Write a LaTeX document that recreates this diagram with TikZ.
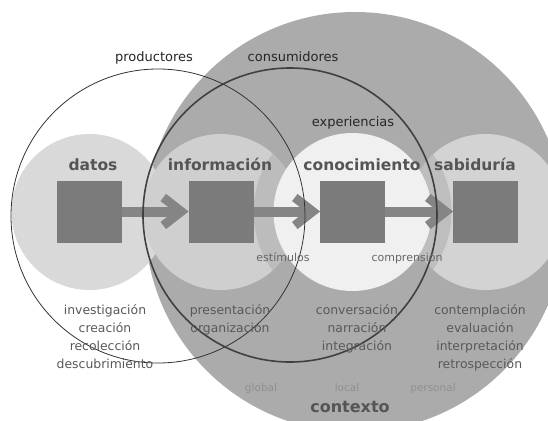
\documentclass[tikz,border=0pt]{standalone}
\usepackage{fontspec}
\setmainfont{DejaVu Sans}
\usetikzlibrary{calc}
\definecolor{ctxgray}{HTML}{ABABAB}
\definecolor{datosfill}{HTML}{D9D9D9}
\definecolor{infofill}{HTML}{CFCFCF}
\definecolor{sabfill}{HTML}{D3D3D3}
\definecolor{conofill}{HTML}{F0F0F0}
\definecolor{sqgray}{HTML}{7B7B7B}
\definecolor{arrgray}{HTML}{858585}
\definecolor{labgray}{HTML}{555555}
\definecolor{listgray}{HTML}{595959}
\definecolor{smallgray}{HTML}{666666}
\definecolor{ctxtext}{HTML}{8F8F8F}
\definecolor{linegray}{HTML}{333333}
\tikzset{
  sqbox/.style={fill=sqgray, draw=none, minimum width=65pt, minimum height=62pt, inner sep=0pt},
  shaft/.style={draw=arrgray, line width=10pt},
  chev/.style={draw=arrgray, line width=9pt, line join=miter},
  stage/.style={font=\fontsize{15.5}{18}\selectfont\bfseries, text=labgray, anchor=base, inner sep=0pt},
  toplbl/.style={font=\fontsize{13}{16}\selectfont, text=black!85, anchor=base, inner sep=0pt},
  smalllbl/.style={font=\fontsize{11}{13}\selectfont, text=smallgray, anchor=base, inner sep=0pt},
  listlbl/.style={font=\fontsize{12.4}{18}\selectfont, text=listgray, align=center, anchor=north, inner sep=0pt},
  ctxlbl/.style={font=\fontsize{10.5}{12}\selectfont, text=ctxtext, anchor=base, inner sep=0pt},
}
\begin{document}
\begin{tikzpicture}[x=1pt,y=-1pt]
\useasboundingbox (0,0) rectangle (548,420);
\fill[white] (0,0) rectangle (548,420);
\clip (0,0) rectangle (548,420);
% context circle and stage discs
\fill[ctxgray] (355,222) circle[radius=210pt];
\fill[datosfill] (89.5,212) circle[radius=78pt];
\fill[infofill] (221,212) circle[radius=78pt];
\fill[sabfill] (485.5,212) circle[radius=78pt];
\fill[ctxgray, fill opacity=0.5] (352.5,212) circle[radius=99pt];
\fill[conofill] (352.5,212) circle[radius=79pt];
% squares
\node[sqbox] (sq1) at (89.5,211.5) {};
\node[sqbox] (sq2) at (221,211.5) {};
\node[sqbox] (sq3) at (352.5,211.5) {};
\node[sqbox] (sq4) at (485.5,211.5) {};
% arrows
\foreach \a/\b in {sq1/sq2, sq2/sq3, sq3/sq4}{
  \draw[shaft] (\a.east) -- ($(\b.west)+(-7,0)$);
  \draw[chev] ($(\b.west)+(-25,-14)$) -- ($(\b.west)+(-7,0)$) -- ($(\b.west)+(-25,14)$);
}
% producer / consumer circles
\draw[linegray, line width=0.8pt] (158,216) circle[radius=147pt];
\draw[black!75, line width=1.6pt] (290,215) circle[radius=147pt];
% labels
\node[toplbl] (prod) at (154,62) {productores};
\node[toplbl] (cons) at (293,62) {consumidores};
\node[toplbl] (exp) at (353,126) {experiencias};
\node[stage] (datos) at (93,170) {datos};
\node[stage] (info) at (220,170) {información};
\node[stage] (cono) at (362,170) {conocimiento};
\node[stage] (sab) at (475,170) {sabiduría};
\node[smalllbl] (estim) at (283,261) {estímulos};
\node[smalllbl] (compr) at (407,261) {comprensión};
\node[listlbl] (l1) at (105,304) {investigación\\creación\\recolección\\descubrimiento};
\node[listlbl] (l2) at (230,304) {presentación\\organización};
\node[listlbl] (l3) at (357,304) {conversación\\narración\\integración};
\node[listlbl] (l4) at (480,304) {contemplación\\evaluación\\interpretación\\retrospección};
\node[ctxlbl] (glob) at (261,391) {global};
\node[ctxlbl] (loc) at (347,391) {local};
\node[ctxlbl] (pers) at (433,391) {personal};
\node[font=\fontsize{16}{18}\selectfont\bfseries, text=labgray, anchor=base, inner sep=0pt] (ctx) at (350,412) {contexto};
\end{tikzpicture}
\end{document}
